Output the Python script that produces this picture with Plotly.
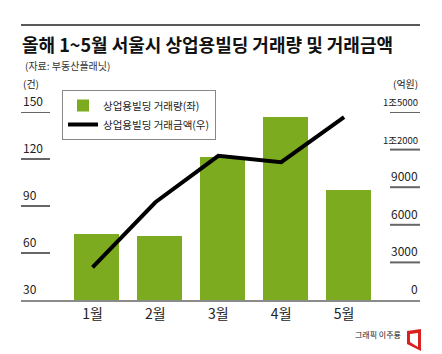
import plotly.graph_objects as go

# ---- data ----
months = ["1월", "2월", "3월", "4월", "5월"]
deal_count = [72, 71, 121, 147, 100]            # 거래량 (건), left axis
deal_amount = [2600, 7800, 11500, 11000, 14600]  # 거래금액 (억원), right axis
left_ticks = [30, 60, 90, 120, 150]
left_ticktext = ["30", "60", "90", "120", "150"]
right_ticks = [0, 3000, 6000, 9000, 12000, 15000]
right_ticktext = ["0", "3000", "6000", "9000", "1조2000", "1조5000"]

FONT = "Noto Sans CJK KR"
W, H = 442, 354
L, R, T, B = 21, 22, 112, 54
PW, PH = W - L - R, H - T - B


def px(x):
    return (x - L) / PW


def py(y):
    return (H - B - y) / PH


xs = list(range(len(months)))

fig = go.Figure()
fig.add_trace(go.Bar(
    x=xs, y=deal_count, name="상업용빌딩 거래량(좌)",
    marker=dict(color="#7cab1f", line=dict(width=0)),
    width=0.715, offset=-0.294,
))
fig.add_trace(go.Scatter(
    x=xs, y=deal_amount, name="상업용빌딩 거래금액(우)", yaxis="y2",
    mode="lines", line=dict(color="#000000", width=4),
))

fig.update_layout(
    width=W, height=H, autosize=False,
    margin=dict(l=L, r=R, t=T, b=B, pad=0, autoexpand=False),
    paper_bgcolor="white", plot_bgcolor="rgba(0,0,0,0)",
    font=dict(family=FONT, color="#222"),
    bargap=0,
    xaxis=dict(
        range=[-1.137, 5.207], tickvals=xs, ticktext=months,
        showline=True, linecolor="#8a8a8a", linewidth=2,
        showgrid=False, zeroline=False, ticks="",
        tickfont=dict(family=FONT, size=14, color="#222"),
        fixedrange=True,
    ),
    yaxis=dict(
        range=[30, 150], tickvals=left_ticks,
        showgrid=False, zeroline=False, showline=False,
        showticklabels=False, ticks="",
    ),
    yaxis2=dict(
        range=[0, 15000], tickvals=right_ticks,
        overlaying="y", side="right",
        showgrid=False, zeroline=False, showline=False,
        showticklabels=False, ticks="",
    ),
    legend=dict(
        x=px(62), y=py(90), xanchor="left", yanchor="top",
        bgcolor="white", bordercolor="#888", borderwidth=1,
        font=dict(family=FONT, size=10.5, color="#222"),
        traceorder="normal", tracegroupgap=0, itemwidth=30,
    ),
    showlegend=True,
)

annotations = [
    dict(text="<b>올해 1~5월 서울시 상업용빌딩 거래량 및 거래금액</b>",
         x=px(20), y=py(44), xanchor="left", yanchor="middle",
         font=dict(family=FONT, size=18, color="#111")),
    dict(text="(자료: 부동산플래닛)",
         x=px(23), y=py(66), xanchor="left", yanchor="middle",
         font=dict(family=FONT, size=10, color="#333")),
    dict(text="(건)", x=px(21), y=py(84), xanchor="left", yanchor="middle",
         font=dict(family=FONT, size=10, color="#222")),
    dict(text="(억원)", x=px(420), y=py(84), xanchor="right", yanchor="middle",
         font=dict(family=FONT, size=10, color="#222")),
    dict(text="그래픽 이주룡", x=px(403), y=py(334), xanchor="right", yanchor="middle",
         font=dict(family=FONT, size=8, color="#222")),
]
for a in annotations:
    a.update(xref="paper", yref="paper", showarrow=False)

shapes = [
    dict(type="line", xref="paper", yref="paper", x0=0, x1=1,
         y0=py(25), y1=py(25), line=dict(color="#222", width=1.5)),
]

TICK_LINE = dict(color="#666666", width=2)

# left axis: short lines + labels above them
for v, t in zip(left_ticks, left_ticktext):
    if v != left_ticks[0]:
        shapes.append(dict(type="line", xref="paper", yref="y",
                           x0=0, x1=px(50), y0=v, y1=v, line=TICK_LINE,
                           layer="above"))
    annotations.append(dict(text=t, xref="paper", yref="y", x=0, y=v,
                            xanchor="left", yanchor="bottom", yshift=1,
                            showarrow=False,
                            font=dict(family=FONT, size=12, color="#222")))
# right axis
for v, t in zip(right_ticks, right_ticktext):
    if v != right_ticks[0]:
        shapes.append(dict(type="line", xref="paper", yref="y2",
                           x0=px(390), x1=1, y0=v, y1=v, line=TICK_LINE,
                           layer="above"))
    size = 9.5 if "조" in t else 12
    annotations.append(dict(text=t, xref="paper", yref="y2", x=1, y=v,
                            xanchor="right", yanchor="bottom", yshift=1,
                            showarrow=False,
                            font=dict(family=FONT, size=size, color="#222")))


def path(points):
    return "M " + " L ".join(f"{px(x):.4f},{py(y):.4f}" for x, y in points) + " Z"


icon_path = path([(407, 331), (421, 329), (421, 351), (407, 344)]) + " " + \
    path([(410, 334), (418, 333), (418, 347), (410, 342)])
shapes.append(dict(type="path", xref="paper", yref="paper", path=icon_path,
                   fillcolor="#d9211f", fillrule="evenodd", line=dict(width=0)))

fig.update_layout(annotations=annotations, shapes=shapes)

fig.write_html("out.html")
